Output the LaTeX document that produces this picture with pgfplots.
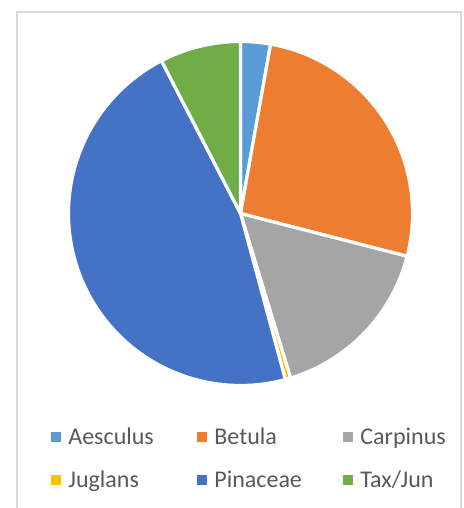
\documentclass[border=0pt]{standalone}
\usepackage{pgfplots}
\pgfplotsset{compat=1.18}
\usepackage{fontspec}
\setmainfont{Carlito}

\definecolor{aes}{HTML}{5B9BD5}
\definecolor{bet}{HTML}{ED7D31}
\definecolor{car}{HTML}{A5A5A5}
\definecolor{jug}{HTML}{FFC000}
\definecolor{pin}{HTML}{4472C4}
\definecolor{tax}{HTML}{70AD47}
\definecolor{frame}{HTML}{D9D9D9}
\definecolor{legtext}{HTML}{595959}

% one slice: cumulative share at start and end (percent), colour
% clockwise from 12 o'clock, like the office pie
\newcommand{\slice}[3]{%
  \pgfmathsetmacro\angA{90-3.6*(#2)}%
  \pgfmathsetmacro\angB{90-3.6*(#1)}%
  \addplot[fill=#3, draw=white, line width=1.6pt, line join=round,
    domain=\angA:\angB, samples=90] ({cos(x)},{sin(x)}) -- (0,0) -- cycle;
}

\begin{document}
\begin{tikzpicture}
\useasboundingbox (0,0) rectangle (232pt,-254pt);
\draw[frame, line width=0.75pt] (8.5pt,-280pt) -- (8.5pt,-6pt) -- (230.5pt,-6pt) -- (230.5pt,-280pt);

\begin{axis}[
  at={(120.25pt,-106.75pt)}, anchor=center,
  scale only axis, width=172pt, height=172pt,
  axis equal image,
  xmin=-1, xmax=1, ymin=-1, ymax=1,
  hide axis, clip=false,
  legend columns=3,
  legend cell align=left,
  area legend,
  legend image code/.code={\path[#1, draw=none] (0pt,-2.5pt) rectangle (5pt,2.5pt);},
  legend style={
    at={(-0.0509,-0.1119)}, anchor=north west,
    draw=none, fill=none, inner sep=0pt,
    font=\fontsize{12}{14}\selectfont, text=legtext,
    nodes={inner sep=0pt, text height=10pt, text depth=3pt},
    row sep=8.5pt,
    /tikz/every odd column/.append style={column sep=3.5pt},
  },
]
% shares (percent): Aesculus 2.8, Betula 26.2, Carpinus 16.3,
% Juglans 0.5, Pinaceae 46.6, Tax/Jun 7.6
\slice{0}{2.8}{aes}
\addlegendentry{\makebox[64.5pt][l]{Aesculus}}
\slice{2.8}{29.0}{bet}
\addlegendentry{\makebox[64.5pt][l]{Betula}}
\slice{29.0}{45.3}{car}
\addlegendentry{Carpinus}
\slice{45.3}{45.8}{jug}
\addlegendentry{\makebox[64.5pt][l]{Juglans}}
\slice{45.8}{92.4}{pin}
\addlegendentry{\makebox[64.5pt][l]{Pinaceae}}
\slice{92.4}{100}{tax}
\addlegendentry{Tax/Jun}
\end{axis}
\end{tikzpicture}
\end{document}
